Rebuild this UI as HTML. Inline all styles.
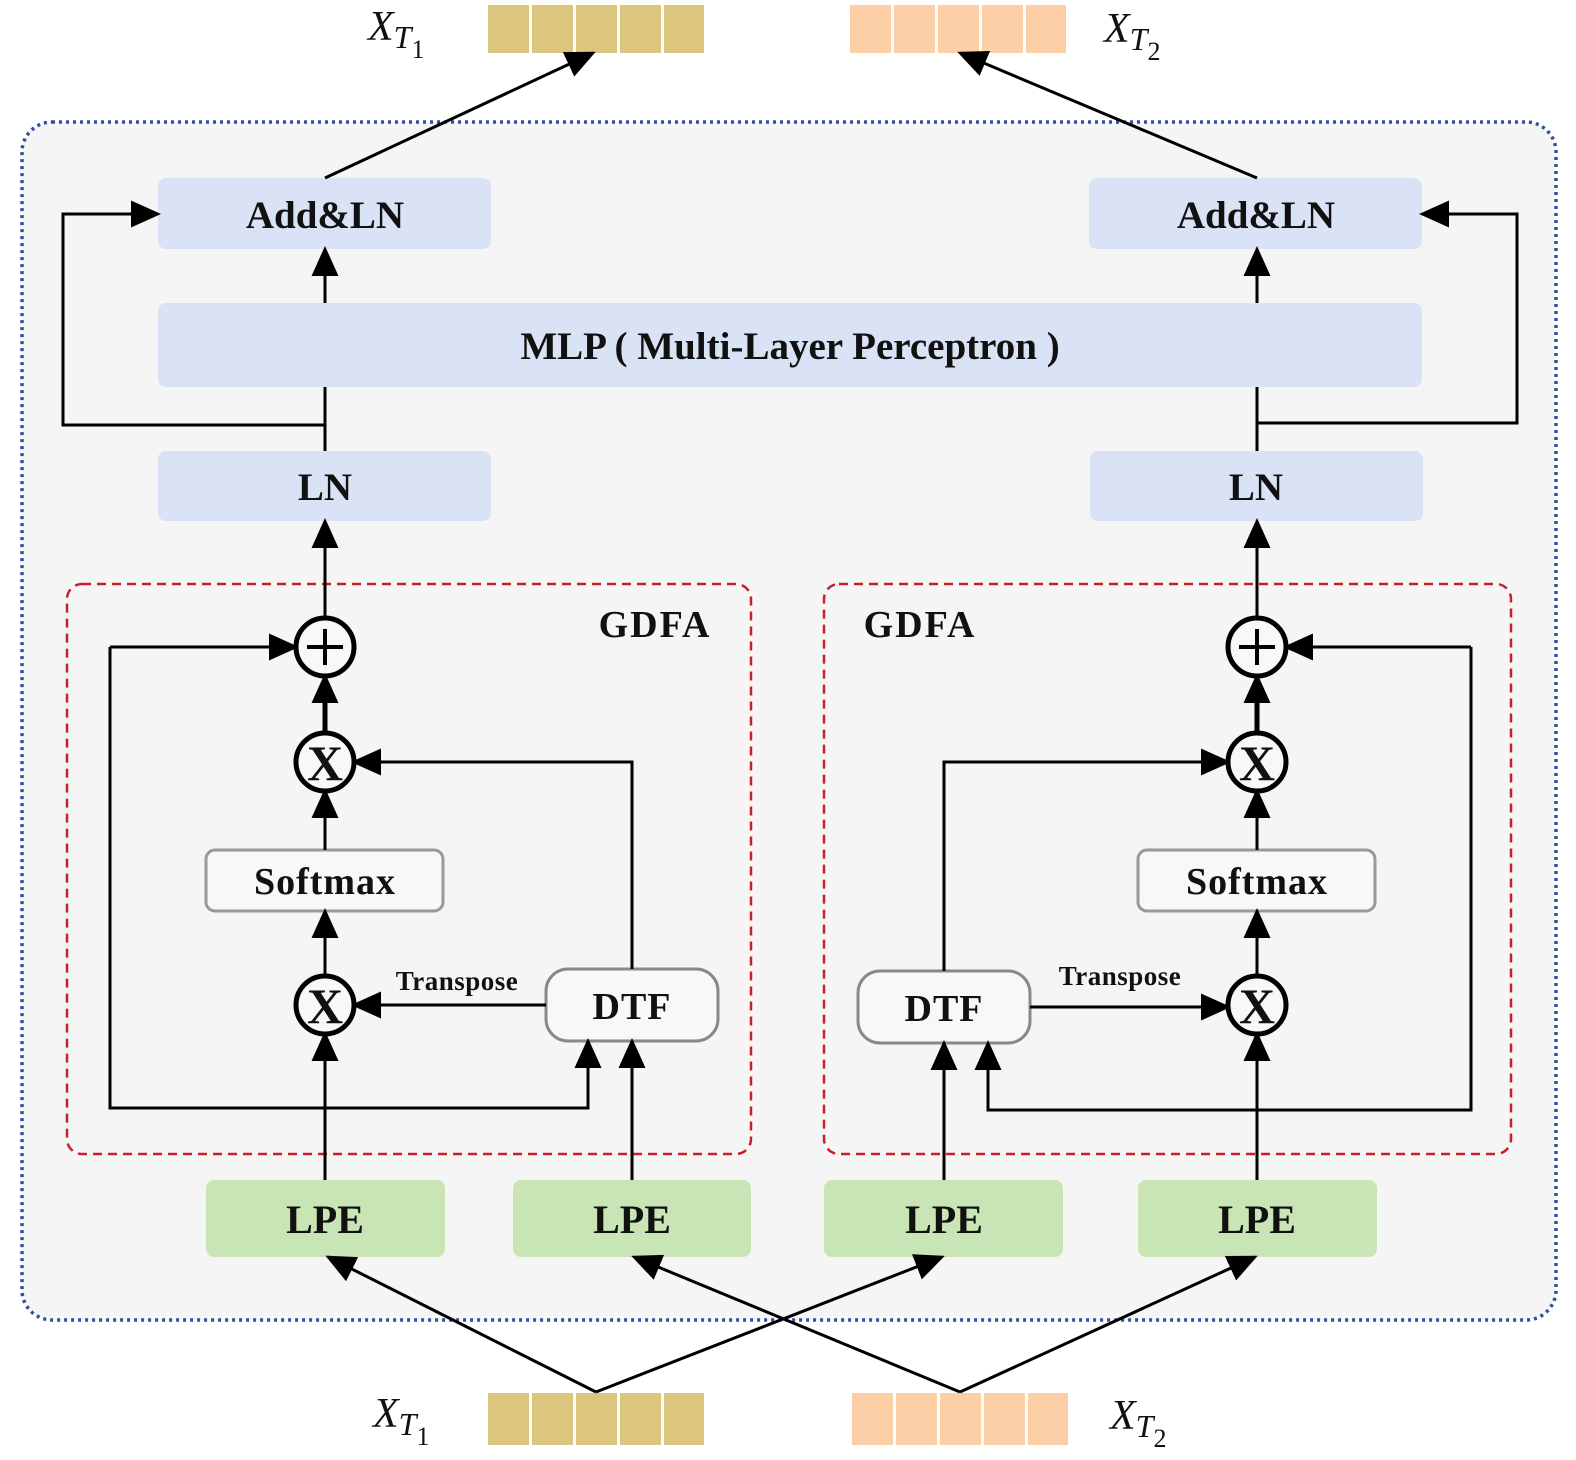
<!DOCTYPE html>
<html><head><meta charset="utf-8"><style>
html,body{margin:0;padding:0;background:#fff;}
svg{display:block;}
text{font-family:"Liberation Serif",serif;font-weight:bold;fill:#111;}
.it{font-style:italic;font-weight:normal;}
</style></head><body>
<svg width="1576" height="1460" viewBox="0 0 1576 1460" xmlns="http://www.w3.org/2000/svg">
<defs>
<marker id="b" viewBox="0 0 10 10" refX="9" refY="5" markerWidth="30" markerHeight="30" markerUnits="userSpaceOnUse" orient="auto"><path d="M0,0.5 L10,5 L0,9.5z" fill="#000"/></marker>
</defs>
<rect x="22" y="122" width="1534" height="1198" rx="30" fill="#f5f5f5" stroke="#2f4f9f" stroke-width="3.5" stroke-dasharray="3,4"/>

<g fill="#dcc57e"><rect x="488" y="5" width="41" height="48"/><rect x="532" y="5" width="41" height="48"/><rect x="576" y="5" width="41" height="48"/><rect x="620" y="5" width="41" height="48"/><rect x="664" y="5" width="40" height="48"/></g>
<g fill="#fdcfa6"><rect x="850" y="5" width="41" height="48"/><rect x="894" y="5" width="41" height="48"/><rect x="938" y="5" width="41" height="48"/><rect x="982" y="5" width="41" height="48"/><rect x="1026" y="5" width="40" height="48"/></g>
<g fill="#dcc57e"><rect x="488" y="1393" width="41" height="52"/><rect x="532" y="1393" width="41" height="52"/><rect x="576" y="1393" width="41" height="52"/><rect x="620" y="1393" width="41" height="52"/><rect x="664" y="1393" width="40" height="52"/></g>
<g fill="#fdcfa6"><rect x="852" y="1393" width="41" height="52"/><rect x="896" y="1393" width="41" height="52"/><rect x="940" y="1393" width="41" height="52"/><rect x="984" y="1393" width="41" height="52"/><rect x="1028" y="1393" width="40" height="52"/></g>
<text class="it" x="368" y="40" font-size="42">X<tspan font-size="32" dy="8">T</tspan><tspan font-size="26" dy="10" font-style="normal">1</tspan></text>
<text class="it" x="1104" y="42" font-size="42">X<tspan font-size="32" dy="8">T</tspan><tspan font-size="26" dy="10" font-style="normal">2</tspan></text>
<text class="it" x="373" y="1427" font-size="42">X<tspan font-size="32" dy="8">T</tspan><tspan font-size="26" dy="10" font-style="normal">1</tspan></text>
<text class="it" x="1110" y="1429" font-size="42">X<tspan font-size="32" dy="8">T</tspan><tspan font-size="26" dy="10" font-style="normal">2</tspan></text>

<g fill="#dae3f5">
<rect x="158" y="178" width="333" height="71" rx="8"/><rect x="1089" y="178" width="333" height="71" rx="8"/>
<rect x="158" y="303" width="1264" height="84" rx="8"/>
<rect x="158" y="451" width="333" height="70" rx="8"/><rect x="1090" y="451" width="333" height="70" rx="8"/>
</g>
<text x="325" y="228" font-size="39" text-anchor="middle">Add&amp;LN</text>
<text x="1256" y="228" font-size="39" text-anchor="middle">Add&amp;LN</text>
<text x="790" y="359" font-size="39" text-anchor="middle">MLP ( Multi-Layer Perceptron )</text>
<text x="325" y="500" font-size="39" text-anchor="middle">LN</text>
<text x="1256" y="500" font-size="39" text-anchor="middle">LN</text>

<rect x="67" y="584" width="684" height="570" rx="15" fill="none" stroke="#c8202a" stroke-width="2.5" stroke-dasharray="9,6"/>
<rect x="824" y="584" width="687" height="570" rx="15" fill="none" stroke="#c8202a" stroke-width="2.5" stroke-dasharray="9,6"/>
<text x="655" y="637" font-size="38" letter-spacing="2" text-anchor="middle">GDFA</text>
<text x="920" y="637" font-size="38" letter-spacing="2" text-anchor="middle">GDFA</text>

<rect x="206" y="850" width="237" height="61" rx="9" fill="#f8f8f8" stroke="#999" stroke-width="3"/>
<rect x="1138" y="850" width="237" height="61" rx="9" fill="#f8f8f8" stroke="#999" stroke-width="3"/>
<text x="325" y="894" font-size="38" letter-spacing="1" text-anchor="middle">Softmax</text>
<text x="1257" y="894" font-size="38" letter-spacing="1" text-anchor="middle">Softmax</text>
<rect x="546" y="969" width="172" height="72" rx="22" fill="#f8f8f8" stroke="#888" stroke-width="3"/>
<rect x="858" y="971" width="172" height="72" rx="22" fill="#f8f8f8" stroke="#888" stroke-width="3"/>
<text x="632" y="1019" font-size="38" letter-spacing="1" text-anchor="middle">DTF</text>
<text x="944" y="1021" font-size="38" letter-spacing="1" text-anchor="middle">DTF</text>
<text x="457" y="990" font-size="27" letter-spacing="0.5" text-anchor="middle">Transpose</text>
<text x="1120" y="985" font-size="27" letter-spacing="0.5" text-anchor="middle">Transpose</text>

<g fill="#c9e4b5">
<rect x="206" y="1180" width="239" height="77" rx="8"/><rect x="513" y="1180" width="238" height="77" rx="8"/>
<rect x="824" y="1180" width="239" height="77" rx="8"/><rect x="1138" y="1180" width="239" height="77" rx="8"/>
</g>
<text x="325" y="1233" font-size="40" text-anchor="middle">LPE</text>
<text x="632" y="1233" font-size="40" text-anchor="middle">LPE</text>
<text x="944" y="1233" font-size="40" text-anchor="middle">LPE</text>
<text x="1257" y="1233" font-size="40" text-anchor="middle">LPE</text>

<g fill="none" stroke="#000" stroke-width="3">
<line x1="325" y1="178" x2="593" y2="53" marker-end="url(#b)"/>
<line x1="1257" y1="178" x2="960" y2="53" marker-end="url(#b)"/>
<line x1="325" y1="303" x2="325" y2="249" marker-end="url(#b)"/>
<line x1="1257" y1="303" x2="1257" y2="249" marker-end="url(#b)"/>
<line x1="325" y1="387" x2="325" y2="451"/>
<line x1="1257" y1="387" x2="1257" y2="451"/>
<polyline points="325,425 63,425 63,214 158,214" marker-end="url(#b)"/>
<polyline points="1257,423 1517,423 1517,214 1422,214" marker-end="url(#b)"/>
<line x1="325" y1="618" x2="325" y2="521" marker-end="url(#b)"/>
<line x1="1257" y1="618" x2="1257" y2="521" marker-end="url(#b)"/>
<line x1="325" y1="733" x2="325" y2="676" stroke-width="5" marker-end="url(#b)"/>
<line x1="1257" y1="733" x2="1257" y2="676" stroke-width="5" marker-end="url(#b)"/>
<line x1="325" y1="850" x2="325" y2="791" marker-end="url(#b)"/>
<line x1="1257" y1="850" x2="1257" y2="791" marker-end="url(#b)"/>
<line x1="325" y1="976" x2="325" y2="911" marker-end="url(#b)"/>
<line x1="1257" y1="976" x2="1257" y2="911" marker-end="url(#b)"/>
<line x1="325" y1="1180" x2="325" y2="1034" marker-end="url(#b)"/>
<line x1="1257" y1="1180" x2="1257" y2="1034" marker-end="url(#b)"/>
<line x1="632" y1="1180" x2="632" y2="1041" marker-end="url(#b)"/>
<line x1="944" y1="1180" x2="944" y2="1043" marker-end="url(#b)"/>
<line x1="546" y1="1005" x2="354" y2="1005" marker-end="url(#b)"/>
<line x1="1030" y1="1007" x2="1228" y2="1007" marker-end="url(#b)"/>
<polyline points="632,969 632,762 354,762" marker-end="url(#b)"/>
<polyline points="944,971 944,762 1228,762" marker-end="url(#b)"/>
<line x1="110" y1="647" x2="296" y2="647" marker-end="url(#b)"/>
<polyline points="110,647 110,1108 588,1108 588,1041" marker-end="url(#b)"/>
<line x1="1471" y1="647" x2="1286" y2="647" marker-end="url(#b)"/>
<polyline points="1471,647 1471,1110 988,1110 988,1043" marker-end="url(#b)"/>
<line x1="596" y1="1392" x2="328" y2="1257" marker-end="url(#b)"/>
<line x1="596" y1="1392" x2="942" y2="1257" marker-end="url(#b)"/>
<line x1="960" y1="1392" x2="634" y2="1257" marker-end="url(#b)"/>
<line x1="960" y1="1392" x2="1255" y2="1257" marker-end="url(#b)"/>
</g>

<g fill="#f8f8f8" stroke="#000" stroke-width="5">
<circle cx="325" cy="647" r="29"/><circle cx="1257" cy="647" r="29"/>
<circle cx="325" cy="762" r="29"/><circle cx="1257" cy="762" r="29"/>
<circle cx="325" cy="1005" r="29"/><circle cx="1257" cy="1005" r="29"/>
</g>
<g stroke="#000" stroke-width="4">
<line x1="307" y1="647" x2="343" y2="647"/><line x1="325" y1="629" x2="325" y2="665"/>
<line x1="1239" y1="647" x2="1275" y2="647"/><line x1="1257" y1="629" x2="1257" y2="665"/>
</g>
<text x="325" y="780" font-size="50" text-anchor="middle">X</text>
<text x="1257" y="780" font-size="50" text-anchor="middle">X</text>
<text x="325" y="1023" font-size="50" text-anchor="middle">X</text>
<text x="1257" y="1023" font-size="50" text-anchor="middle">X</text>
</svg>
</body></html>
